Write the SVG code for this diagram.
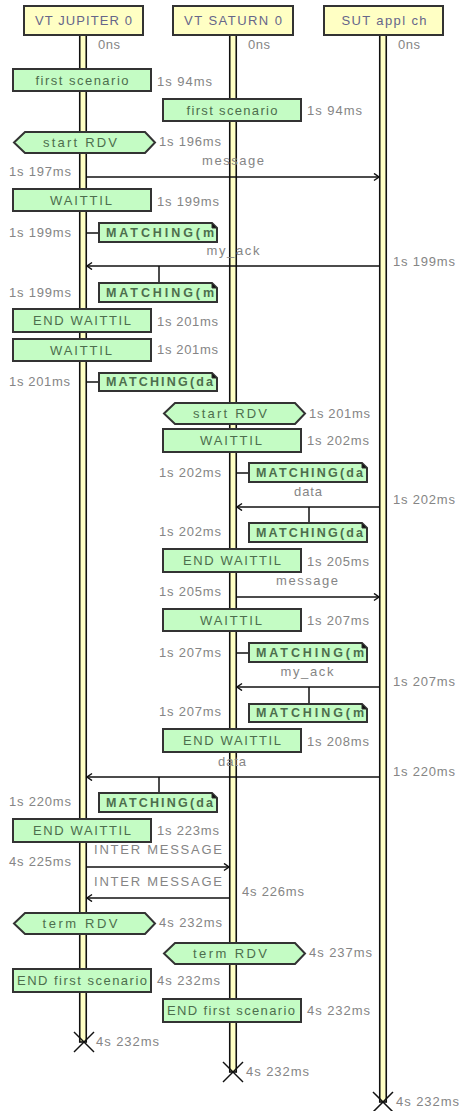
<svg xmlns="http://www.w3.org/2000/svg" width="459" height="1111" viewBox="0 0 459 1111">
<style>
text{font-family:"Liberation Sans",Arial,sans-serif;font-size:13px}
.hd{fill:#66668a;text-anchor:middle}
.bt{fill:#4d6e4d;text-anchor:middle}
.nt{fill:#4d6e4d;font-weight:bold;font-size:12.5px}
.tm{fill:#858585}
.ms{fill:#858585;text-anchor:middle}
.head{fill:#ffffc4;stroke:#333;stroke-width:2}
.life{fill:#ffffc4;stroke:#111;stroke-width:1.6}
.box{fill:#c4fcc4;stroke:#333;stroke-width:2}
.fold{fill:#111;stroke:#333;stroke-width:1}
.ln{stroke:#111;stroke-width:1.5;fill:none}
.arr{stroke:#111;stroke-width:1.5;fill:none;marker-end:url(#ah)}
.x{stroke:#111;stroke-width:1.5}
</style>
<defs>
<marker id="ah" markerUnits="userSpaceOnUse" markerWidth="10" markerHeight="10" refX="6" refY="4" orient="auto">
<path d="M1,0.5 L6,4 L1,7.5" fill="none" stroke="#111" stroke-width="1.5"/>
</marker>
</defs>

<g id="lifelines">
<rect class="life" x="79.75" y="35" width="6.5" height="1007"/>
<rect class="life" x="229.75" y="35" width="6.5" height="1037"/>
<rect class="life" x="379.75" y="35" width="6.5" height="1067"/>
<line class="x" x1="74" y1="1032" x2="94" y2="1052"/><line class="x" x1="94" y1="1032" x2="74" y2="1052"/>
<line class="x" x1="223" y1="1062" x2="243" y2="1082"/><line class="x" x1="243" y1="1062" x2="223" y2="1082"/>
<line class="x" x1="373" y1="1092" x2="393" y2="1112"/><line class="x" x1="393" y1="1092" x2="373" y2="1112"/>
<text class="tm" x="96" y="1046" textLength="63">4s 232ms</text>
<text class="tm" x="246" y="1076" textLength="63">4s 232ms</text>
<text class="tm" x="396" y="1106" textLength="63">4s 232ms</text>
</g>

<g id="jupiter">
<rect class="head" x="24" y="6" width="119" height="29"/>
<text class="hd" x="83.5" y="25" textLength="97">VT JUPITER 0</text>
<text class="tm" x="98" y="49" textLength="22">0ns</text>
</g>
<g id="saturn">
<rect class="head" x="173" y="6" width="120" height="29"/>
<text class="hd" x="233" y="25" textLength="98">VT SATURN 0</text>
<text class="tm" x="248" y="49" textLength="22">0ns</text>
</g>
<g id="sut">
<rect class="head" x="324" y="6" width="119" height="29"/>
<text class="hd" x="384" y="25" textLength="85">SUT appl ch</text>
<text class="tm" x="398" y="49" textLength="22">0ns</text>
</g>

<g id="connectors">
<line class="ln" x1="87" y1="233" x2="99" y2="233"/>
<text class="ms" x="233" y="165" textLength="62">message</text>
<line class="arr" x1="87" y1="177" x2="379" y2="177"/>
<text class="ms" x="233" y="255" textLength="53">my_ack</text>
<line class="arr" x1="379" y1="266" x2="87" y2="266"/>
<line class="ln" x1="159" y1="266" x2="159" y2="283"/>
<line class="ln" x1="87" y1="382" x2="99" y2="382"/>
<line class="ln" x1="237" y1="473" x2="249" y2="473"/>
<text class="ms" x="308" y="496" textLength="28">data</text>
<line class="arr" x1="379" y1="507" x2="237" y2="507"/>
<line class="ln" x1="309" y1="507" x2="309" y2="523"/>
<text class="ms" x="307" y="585" textLength="62">message</text>
<line class="arr" x1="237" y1="597" x2="379" y2="597"/>
<line class="ln" x1="237" y1="653" x2="249" y2="653"/>
<text class="ms" x="307" y="676" textLength="53">my_ack</text>
<line class="arr" x1="379" y1="687" x2="237" y2="687"/>
<line class="ln" x1="309" y1="687" x2="309" y2="704"/>
<text class="ms" x="232" y="766" textLength="28">data</text>
<line class="arr" x1="379" y1="777" x2="87" y2="777"/>
<line class="ln" x1="159" y1="777" x2="159" y2="793"/>
<text class="ms" x="158" y="854" textLength="128">INTER MESSAGE</text>
<line class="arr" x1="87" y1="867" x2="229" y2="867"/>
<text class="ms" x="158" y="886" textLength="128">INTER MESSAGE</text>
<line class="arr" x1="229" y1="898" x2="87" y2="898"/>
</g>

<g id="j-first-scenario">
<rect class="box" x="13" y="69" width="138" height="22"/>
<text class="bt" x="82" y="85" textLength="93">first  scenario</text>
<text class="tm" x="157" y="86" textLength="55">1s 94ms</text>
</g>
<g id="s-first-scenario">
<rect class="box" x="163" y="99" width="138" height="22"/>
<text class="bt" x="232" y="115" textLength="91">first  scenario</text>
<text class="tm" x="307" y="115" textLength="55">1s 94ms</text>
</g>
<g id="j-start-rdv">
<path class="box" d="M14,142.5 L25,132 H145 L155,142.5 L145,153 H25 Z"/>
<text class="bt" x="80" y="147" textLength="74">start  RDV</text>
<text class="tm" x="159" y="146" textLength="62">1s 196ms</text>
</g>
<g id="j-msg-time">
<text class="tm" x="9" y="176" textLength="62">1s 197ms</text>
</g>
<g id="j-waittil-1">
<rect class="box" x="13" y="189" width="138" height="22"/>
<text class="bt" x="81" y="205" textLength="62">WAITTIL</text>
<text class="tm" x="157" y="206" textLength="62">1s 199ms</text>
</g>
<g id="j-matching-1">
<path class="box" d="M99,223 H212 L217,228 V242 H99 Z"/>
<path class="fold" d="M212,223 L217,228 H212 Z"/>
<text class="nt" x="106" y="237" textLength="108">MATCHING(m</text>
<text class="tm" x="9" y="237" textLength="62">1s 199ms</text>
</g>
<g id="sut-ack-time">
<text class="tm" x="393" y="266" textLength="62">1s 199ms</text>
</g>
<g id="j-matching-2">
<path class="box" d="M99,283 H212 L217,288 V302 H99 Z"/>
<path class="fold" d="M212,283 L217,288 H212 Z"/>
<text class="nt" x="106" y="297" textLength="108">MATCHING(m</text>
<text class="tm" x="9" y="297" textLength="62">1s 199ms</text>
</g>
<g id="j-end-waittil-1">
<rect class="box" x="13" y="309" width="138" height="23"/>
<text class="bt" x="82" y="325" textLength="98">END WAITTIL</text>
<text class="tm" x="157" y="326" textLength="61">1s 201ms</text>
</g>
<g id="j-waittil-2">
<rect class="box" x="13" y="339" width="138" height="22"/>
<text class="bt" x="81" y="355" textLength="62">WAITTIL</text>
<text class="tm" x="157" y="354" textLength="61">1s 201ms</text>
</g>
<g id="j-matching-3">
<path class="box" d="M99,373 H212 L217,378 V391 H99 Z"/>
<path class="fold" d="M212,373 L217,378 H212 Z"/>
<text class="nt" x="106" y="386" textLength="107">MATCHING(da</text>
<text class="tm" x="9" y="386" textLength="61">1s 201ms</text>
</g>
<g id="s-start-rdv">
<path class="box" d="M164,413.5 L175,403 H295 L305,413.5 L295,424 H175 Z"/>
<text class="bt" x="230" y="418" textLength="74">start  RDV</text>
<text class="tm" x="309" y="418" textLength="61">1s 201ms</text>
</g>
<g id="s-waittil-1">
<rect class="box" x="163" y="429" width="138" height="23"/>
<text class="bt" x="231" y="445" textLength="62">WAITTIL</text>
<text class="tm" x="307" y="445" textLength="62">1s 202ms</text>
</g>
<g id="s-matching-1">
<path class="box" d="M249,463 H362 L367,468 V482 H249 Z"/>
<path class="fold" d="M362,463 L367,468 H362 Z"/>
<text class="nt" x="256" y="477" textLength="107">MATCHING(da</text>
<text class="tm" x="159" y="477" textLength="62">1s 202ms</text>
</g>
<g id="sut-data-time">
<text class="tm" x="393" y="504" textLength="62">1s 202ms</text>
</g>
<g id="s-matching-2">
<path class="box" d="M249,523 H362 L367,528 V542 H249 Z"/>
<path class="fold" d="M362,523 L367,528 H362 Z"/>
<text class="nt" x="256" y="537" textLength="107">MATCHING(da</text>
<text class="tm" x="159" y="536" textLength="62">1s 202ms</text>
</g>
<g id="s-end-waittil-1">
<rect class="box" x="163" y="549" width="138" height="23"/>
<text class="bt" x="232" y="565" textLength="98">END WAITTIL</text>
<text class="tm" x="307" y="566" textLength="62">1s 205ms</text>
</g>
<g id="s-msg-time">
<text class="tm" x="159" y="596" textLength="62">1s 205ms</text>
</g>
<g id="s-waittil-2">
<rect class="box" x="163" y="609" width="138" height="22"/>
<text class="bt" x="231" y="625" textLength="62">WAITTIL</text>
<text class="tm" x="307" y="625" textLength="62">1s 207ms</text>
</g>
<g id="s-matching-3">
<path class="box" d="M249,643 H362 L367,648 V662 H249 Z"/>
<path class="fold" d="M362,643 L367,648 H362 Z"/>
<text class="nt" x="256" y="657" textLength="108">MATCHING(m</text>
<text class="tm" x="159" y="657" textLength="62">1s 207ms</text>
</g>
<g id="sut-ack2-time">
<text class="tm" x="393" y="686" textLength="62">1s 207ms</text>
</g>
<g id="s-matching-4">
<path class="box" d="M249,704 H362 L367,709 V722 H249 Z"/>
<path class="fold" d="M362,704 L367,709 H362 Z"/>
<text class="nt" x="256" y="717" textLength="108">MATCHING(m</text>
<text class="tm" x="159" y="716" textLength="62">1s 207ms</text>
</g>
<g id="s-end-waittil-2">
<rect class="box" x="163" y="729" width="138" height="23"/>
<text class="bt" x="232" y="745" textLength="98">END WAITTIL</text>
<text class="tm" x="307" y="746" textLength="62">1s 208ms</text>
</g>
<g id="sut-data2-time">
<text class="tm" x="393" y="776" textLength="62">1s 220ms</text>
</g>
<g id="j-matching-4">
<path class="box" d="M99,793 H212 L217,798 V812 H99 Z"/>
<path class="fold" d="M212,793 L217,798 H212 Z"/>
<text class="nt" x="106" y="807" textLength="107">MATCHING(da</text>
<text class="tm" x="9" y="806" textLength="62">1s 220ms</text>
</g>
<g id="j-end-waittil-2">
<rect class="box" x="13" y="819" width="138" height="23"/>
<text class="bt" x="82" y="835" textLength="98">END WAITTIL</text>
<text class="tm" x="157" y="835" textLength="62">1s 223ms</text>
</g>
<g id="j-inter-time">
<text class="tm" x="9" y="866" textLength="62">4s 225ms</text>
</g>
<g id="s-inter-time">
<text class="tm" x="242" y="896" textLength="62">4s 226ms</text>
</g>
<g id="j-term-rdv">
<path class="box" d="M14,923.5 L25,913 H145 L155,923.5 L145,934 H25 Z"/>
<text class="bt" x="80" y="928" textLength="75">term  RDV</text>
<text class="tm" x="159" y="927" textLength="63">4s 232ms</text>
</g>
<g id="s-term-rdv">
<path class="box" d="M164,953.5 L175,943 H295 L305,953.5 L295,964 H175 Z"/>
<text class="bt" x="230" y="958" textLength="74">term  RDV</text>
<text class="tm" x="309" y="957" textLength="63">4s 237ms</text>
</g>
<g id="j-end-first-scenario">
<rect class="box" x="13" y="969" width="138" height="23"/>
<text class="bt" x="82" y="985" textLength="130">END first  scenario</text>
<text class="tm" x="157" y="985" textLength="63">4s 232ms</text>
</g>
<g id="s-end-first-scenario">
<rect class="box" x="163" y="999" width="138" height="23"/>
<text class="bt" x="231" y="1015" textLength="128">END first  scenario</text>
<text class="tm" x="307" y="1015" textLength="63">4s 232ms</text>
</g>
</svg>
